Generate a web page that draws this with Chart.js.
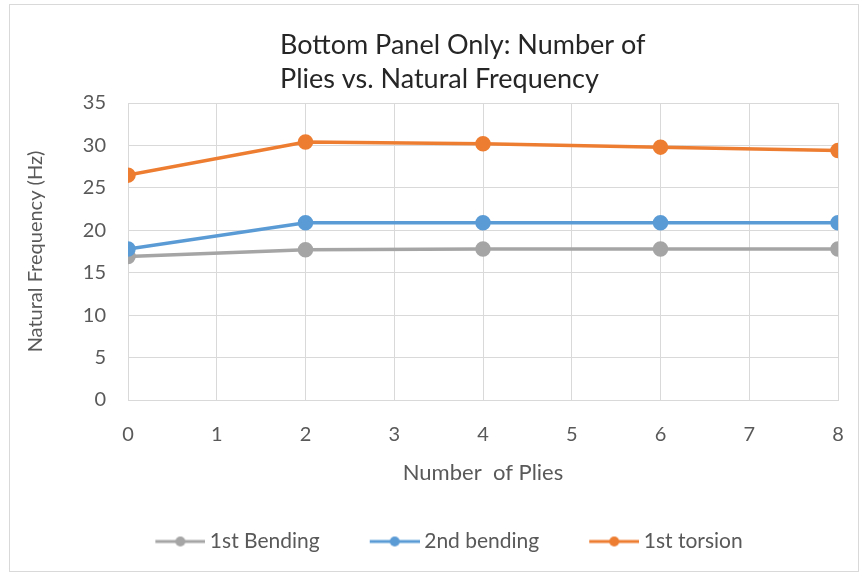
<!DOCTYPE html>
<html>
<head>
<meta charset="utf-8">
<script src="https://cdn.jsdelivr.net/npm/chart.js"></script>
<style>
  html, body { margin: 0; padding: 0; background: #fff; }
  #wrap { position: relative; width: 860px; height: 578px; }
</style>
</head>
<body>
<div id="wrap"><canvas id="graficoPlies" width="860" height="578"></canvas></div>
<script>
  // numero de capas y frecuencias naturales (Hz)
  const plies = [0, 2, 4, 6, 8];
  const firstBending = [16.9, 17.7, 17.8, 17.8, 17.8];
  const secondBending = [17.8, 20.9, 20.9, 20.9, 20.9];
  const firstTorsion = [26.5, 30.4, 30.2, 29.8, 29.4];

  const seriesNames = ['1st Bending', '2nd bending', '1st torsion'];
  const seriesColors = ['#a5a5a5', '#5b9bd5', '#ed7d31'];
  const titleLines = ['Bottom Panel Only: Number of', 'Plies vs. Natural Frequency'];

  const FONT = 'Lato, "Open Sans", sans-serif';
  const GREY_TEXT = '#595959';

  // icono de leyenda: linea con punto (un poco mas ancho que la caja para pegar el texto)
  function legendIcon(color) {
    const c = document.createElement('canvas');
    c.width = 96; c.height = 14;
    const ctx = c.getContext('2d');
    ctx.strokeStyle = color;
    ctx.lineWidth = 3;
    ctx.beginPath();
    ctx.moveTo(46, 7);
    ctx.lineTo(96, 7);
    ctx.stroke();
    ctx.fillStyle = color;
    ctx.beginPath();
    ctx.arc(71, 7, 5, 0, Math.PI * 2);
    ctx.fill();
    return c;
  }

  const seriesData = [firstBending, secondBending, firstTorsion];
  const datasets = seriesData.map((vals, i) => ({
    label: seriesNames[i],
    data: plies.map((p, j) => ({ x: p, y: vals[j] })),
    borderColor: seriesColors[i],
    backgroundColor: seriesColors[i],
    borderWidth: 3.5,
    pointRadius: 6,
    pointHoverRadius: 6,
    tension: 0,
    order: seriesData.length - i
  }));

  const fondo = {
    id: 'fondo',
    beforeDraw(chart) {
      const ctx = chart.ctx;
      ctx.save();
      ctx.fillStyle = '#fff';
      ctx.fillRect(0, 0, chart.width, chart.height);
      ctx.strokeStyle = '#d9d9d9';
      ctx.lineWidth = 1;
      ctx.strokeRect(9.5, 4.5, 849, 567);
      ctx.restore();
    }
  };

  const tituloIzq = {
    id: 'tituloIzq',
    afterDraw(chart) {
      const ctx = chart.ctx;
      ctx.save();
      ctx.fillStyle = '#262626';
      ctx.font = '27px ' + FONT;
      ctx.textBaseline = 'alphabetic';
      ctx.textAlign = 'left';
      titleLines.forEach((t, i) => ctx.fillText(t, 280, 54 + i * 34));
      ctx.restore();
    }
  };

  new Chart(document.getElementById('graficoPlies'), {
    type: 'line',
    data: { datasets },
    plugins: [fondo, tituloIzq],
    options: {
      responsive: false,
      animation: false,
      events: [],
      layout: { padding: { top: 103, left: 20, right: 22, bottom: 16 } },
      plugins: {
        title: { display: false },
        tooltip: { enabled: false },
        legend: {
          position: 'bottom',
          labels: {
            usePointStyle: true,
            pointStyleWidth: 84,
            padding: 10,
            color: GREY_TEXT,
            font: { family: FONT, size: 21 },
            generateLabels: chart => chart.data.datasets.map((d, i) => ({
              text: d.label,
              fillStyle: seriesColors[i],
              strokeStyle: seriesColors[i],
              lineWidth: 0,
              pointStyle: legendIcon(seriesColors[i]),
              fontColor: GREY_TEXT,
              hidden: false,
              datasetIndex: i
            }))
          }
        }
      },
      scales: {
        x: {
          type: 'linear',
          min: 0,
          max: 8,
          ticks: {
            stepSize: 1,
            padding: 23,
            color: GREY_TEXT,
            font: { family: FONT, size: 20 }
          },
          grid: { color: '#d9d9d9', drawTicks: false },
          border: { color: '#d9d9d9' },
          title: {
            display: true,
            text: 'Number  of Plies',
            color: GREY_TEXT,
            font: { family: FONT, size: 22 },
            padding: { top: 0, bottom: 35 }
          },
          afterFit: s => {
            s.height = 121;
            s.paddingLeft = 0;
            s.paddingRight = 0;
          }
        },
        y: {
          min: 0,
          max: 35,
          ticks: {
            stepSize: 5,
            padding: 22,
            color: GREY_TEXT,
            font: { family: FONT, size: 20 }
          },
          grid: { color: '#d9d9d9', drawTicks: false },
          border: { display: false },
          title: {
            display: true,
            text: 'Natural Frequency (Hz)',
            color: GREY_TEXT,
            font: { family: FONT, size: 20 },
            padding: { top: 4, bottom: 0 }
          },
          afterFit: s => { s.width = 108; }
        }
      }
    }
  });
</script>
</body>
</html>
